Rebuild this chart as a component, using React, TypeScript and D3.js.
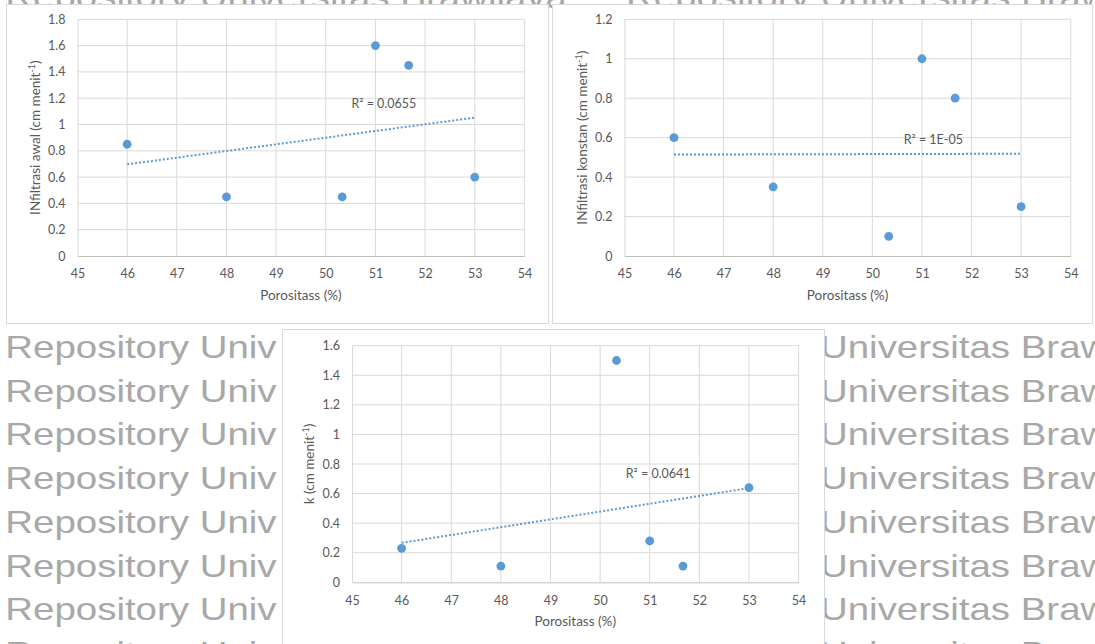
import React, { useEffect, useRef } from "react";
import * as d3 from "d3";

// data
const porositas = [46, 48, 50.33, 51, 51.67, 53];
const infiltrasiAwal = [0.85, 0.45, 0.45, 1.6, 1.45, 0.6];
const infiltrasiKonstan = [0.6, 0.35, 0.1, 1.0, 0.8, 0.25];
const nilaiK = [0.23, 0.11, 1.5, 0.28, 0.11, 0.64];

const xTicks = [45, 46, 47, 48, 49, 50, 51, 52, 53, 54];
const yTicksAwal = [0, 0.2, 0.4, 0.6, 0.8, 1, 1.2, 1.4, 1.6, 1.8];
const yTicksKonstan = [0, 0.2, 0.4, 0.6, 0.8, 1, 1.2];
const yTicksK = [0, 0.2, 0.4, 0.6, 0.8, 1, 1.2, 1.4, 1.6];

const r2Labels = ["R² = 0.0655", "R² = 1E-05", "R² = 0.0641"];
const r2Positions = [
  [51.17, 1.16],
  [51.23, 0.59],
  [51.17, 0.732],
];

const BLUE = "#5b9bd5";
const TEXT = "#595959";
const FONT = "Lato, 'Open Sans', sans-serif";

const ScatterPanel = ({ box, plot, values, yTicks, yTitle, r2Label, r2Pos }) => {
  const gRef = useRef(null);

  useEffect(() => {
    const g = d3.select(gRef.current);
    g.selectAll("*").remove();

    const x = d3
      .scaleLinear()
      .domain([xTicks[0], xTicks[xTicks.length - 1]])
      .range([plot.left, plot.right]);
    const y = d3
      .scaleLinear()
      .domain([0, yTicks[yTicks.length - 1]])
      .range([plot.bottom, plot.top]);

    // chart area
    g.append("rect")
      .attr("x", box.x + 0.5)
      .attr("y", box.y + 0.5)
      .attr("width", box.w)
      .attr("height", box.h)
      .attr("fill", "#fff")
      .attr("stroke", "#d9d9d9");

    // gridlines
    g.append("g")
      .selectAll("line")
      .data(yTicks.slice(1))
      .join("line")
      .attr("x1", plot.left)
      .attr("x2", plot.right)
      .attr("y1", (d) => y(d))
      .attr("y2", (d) => y(d))
      .attr("stroke", "#d9d9d9");
    g.append("g")
      .selectAll("line")
      .data(xTicks.slice(1))
      .join("line")
      .attr("x1", (d) => x(d))
      .attr("x2", (d) => x(d))
      .attr("y1", plot.top)
      .attr("y2", plot.bottom)
      .attr("stroke", "#d9d9d9");

    // axes
    const xAxis = g
      .append("g")
      .attr("transform", `translate(0,${plot.bottom})`)
      .call(d3.axisBottom(x).tickValues(xTicks).tickSize(0).tickPadding(13.5).tickFormat(d3.format("d")));
    xAxis.attr("font-family", FONT).attr("font-size", 12.5);
    xAxis.select(".domain").attr("stroke", "#bfbfbf");
    xAxis.selectAll("text").attr("fill", TEXT);

    const yAxis = g
      .append("g")
      .attr("transform", `translate(${plot.left},0)`)
      .call(d3.axisLeft(y).tickValues(yTicks).tickSize(0).tickPadding(12).tickFormat((d) => String(d)));
    yAxis.attr("font-family", FONT).attr("font-size", 12.5);
    yAxis.select(".domain").attr("stroke", "#d9d9d9");
    yAxis.selectAll("text").attr("fill", TEXT);

    // linear trendline (least squares, like Excel)
    const mx = d3.mean(porositas);
    const my = d3.mean(values);
    const sxy = d3.sum(porositas, (d, i) => (d - mx) * (values[i] - my));
    const sxx = d3.sum(porositas, (d) => (d - mx) * (d - mx));
    const slope = sxy / sxx;
    const icpt = my - slope * mx;
    const [x0, x1] = d3.extent(porositas);
    g.append("line")
      .attr("x1", x(x0))
      .attr("y1", y(icpt + slope * x0))
      .attr("x2", x(x1))
      .attr("y2", y(icpt + slope * x1))
      .attr("stroke", BLUE)
      .attr("stroke-width", 2)
      .attr("stroke-dasharray", "2 2");

    // points
    g.append("g")
      .selectAll("circle")
      .data(values)
      .join("circle")
      .attr("cx", (d, i) => x(porositas[i]))
      .attr("cy", (d) => y(d))
      .attr("r", 4.4)
      .attr("fill", BLUE);

    // R² label
    g.append("text")
      .attr("x", x(r2Pos[0]))
      .attr("y", y(r2Pos[1]))
      .attr("dy", "0.35em")
      .attr("text-anchor", "middle")
      .attr("font-family", FONT)
      .attr("font-size", 12.5)
      .attr("fill", TEXT)
      .text(r2Label);

    // axis titles
    g.append("text")
      .attr("x", (plot.left + plot.right) / 2)
      .attr("y", plot.bottom + 44)
      .attr("text-anchor", "middle")
      .attr("font-family", FONT)
      .attr("font-size", 13.5)
      .attr("fill", TEXT)
      .text("Porositass (%)");

    const yt = g
      .append("text")
      .attr("transform", `translate(${plot.left - 42.5},${(plot.top + plot.bottom) / 2}) rotate(-90)`)
      .attr("dy", "0.35em")
      .attr("text-anchor", "middle")
      .attr("font-family", FONT)
      .attr("font-size", 13.5)
      .attr("fill", TEXT);
    yt.append("tspan").text(yTitle + " (cm menit");
    yt.append("tspan").attr("dy", -5).attr("font-size", 9).text("-1");
    yt.append("tspan").attr("dy", 5).text(")");
  }, [box, plot, values, yTicks, yTitle, r2Label, r2Pos]);

  return <g ref={gRef}></g>;
};

// page watermark: only the parts that show around the charts
const Watermark = () => {
  const rows = [0, 1, 2, 3, 4, 5, 6, 7].map((k) => 358 + 43.7 * k);
  const topRow = 358 - 8 * 43.7;
  const sx = 1.24;
  return (
    <g fill="#a8a8a8" fontFamily="'Liberation Sans', Arial, sans-serif" fontSize={31}>
      <text transform={`translate(5.3,${topRow}) scale(${sx},1)`}>Repository Universitas Brawijaya</text>
      <text transform={`translate(626,${topRow}) scale(${sx},1)`}>Repository Universitas Brawijaya</text>
      {rows.map((yy, i) => (
        <g key={i}>
          <text transform={`translate(5.3,${yy}) scale(${sx},1)`}>Repository Univ</text>
          <text transform={`translate(820,${yy}) scale(${sx},1)`}>Universitas Brawijaya</text>
        </g>
      ))}
    </g>
  );
};

const panel1 = {
  box: { x: 6, y: 4, w: 542, h: 319 },
  plot: { left: 77.5, right: 524.4, top: 19.3, bottom: 256 },
};
const panel2 = {
  box: { x: 552, y: 4, w: 540, h: 319 },
  plot: { left: 624.4, right: 1070.7, top: 19.3, bottom: 256 },
};
const panel3 = {
  box: { x: 282, y: 329, w: 542, h: 330 },
  plot: { left: 352, right: 798.6, top: 345.7, bottom: 582.3 },
};

export default function App() {
  return (
    <svg width={1095} height={644} style={{ position: "absolute", left: 0, top: 0, background: "#fff" }}>
      <Watermark />
      <ScatterPanel
        {...panel1}
        values={infiltrasiAwal}
        yTicks={yTicksAwal}
        yTitle="INfiltrasi awal"
        r2Label={r2Labels[0]}
        r2Pos={r2Positions[0]}
      />
      <ScatterPanel
        {...panel2}
        values={infiltrasiKonstan}
        yTicks={yTicksKonstan}
        yTitle="INfiltrasi konstan"
        r2Label={r2Labels[1]}
        r2Pos={r2Positions[1]}
      />
      <ScatterPanel
        {...panel3}
        values={nilaiK}
        yTicks={yTicksK}
        yTitle="k"
        r2Label={r2Labels[2]}
        r2Pos={r2Positions[2]}
      />
    </svg>
  );
}
